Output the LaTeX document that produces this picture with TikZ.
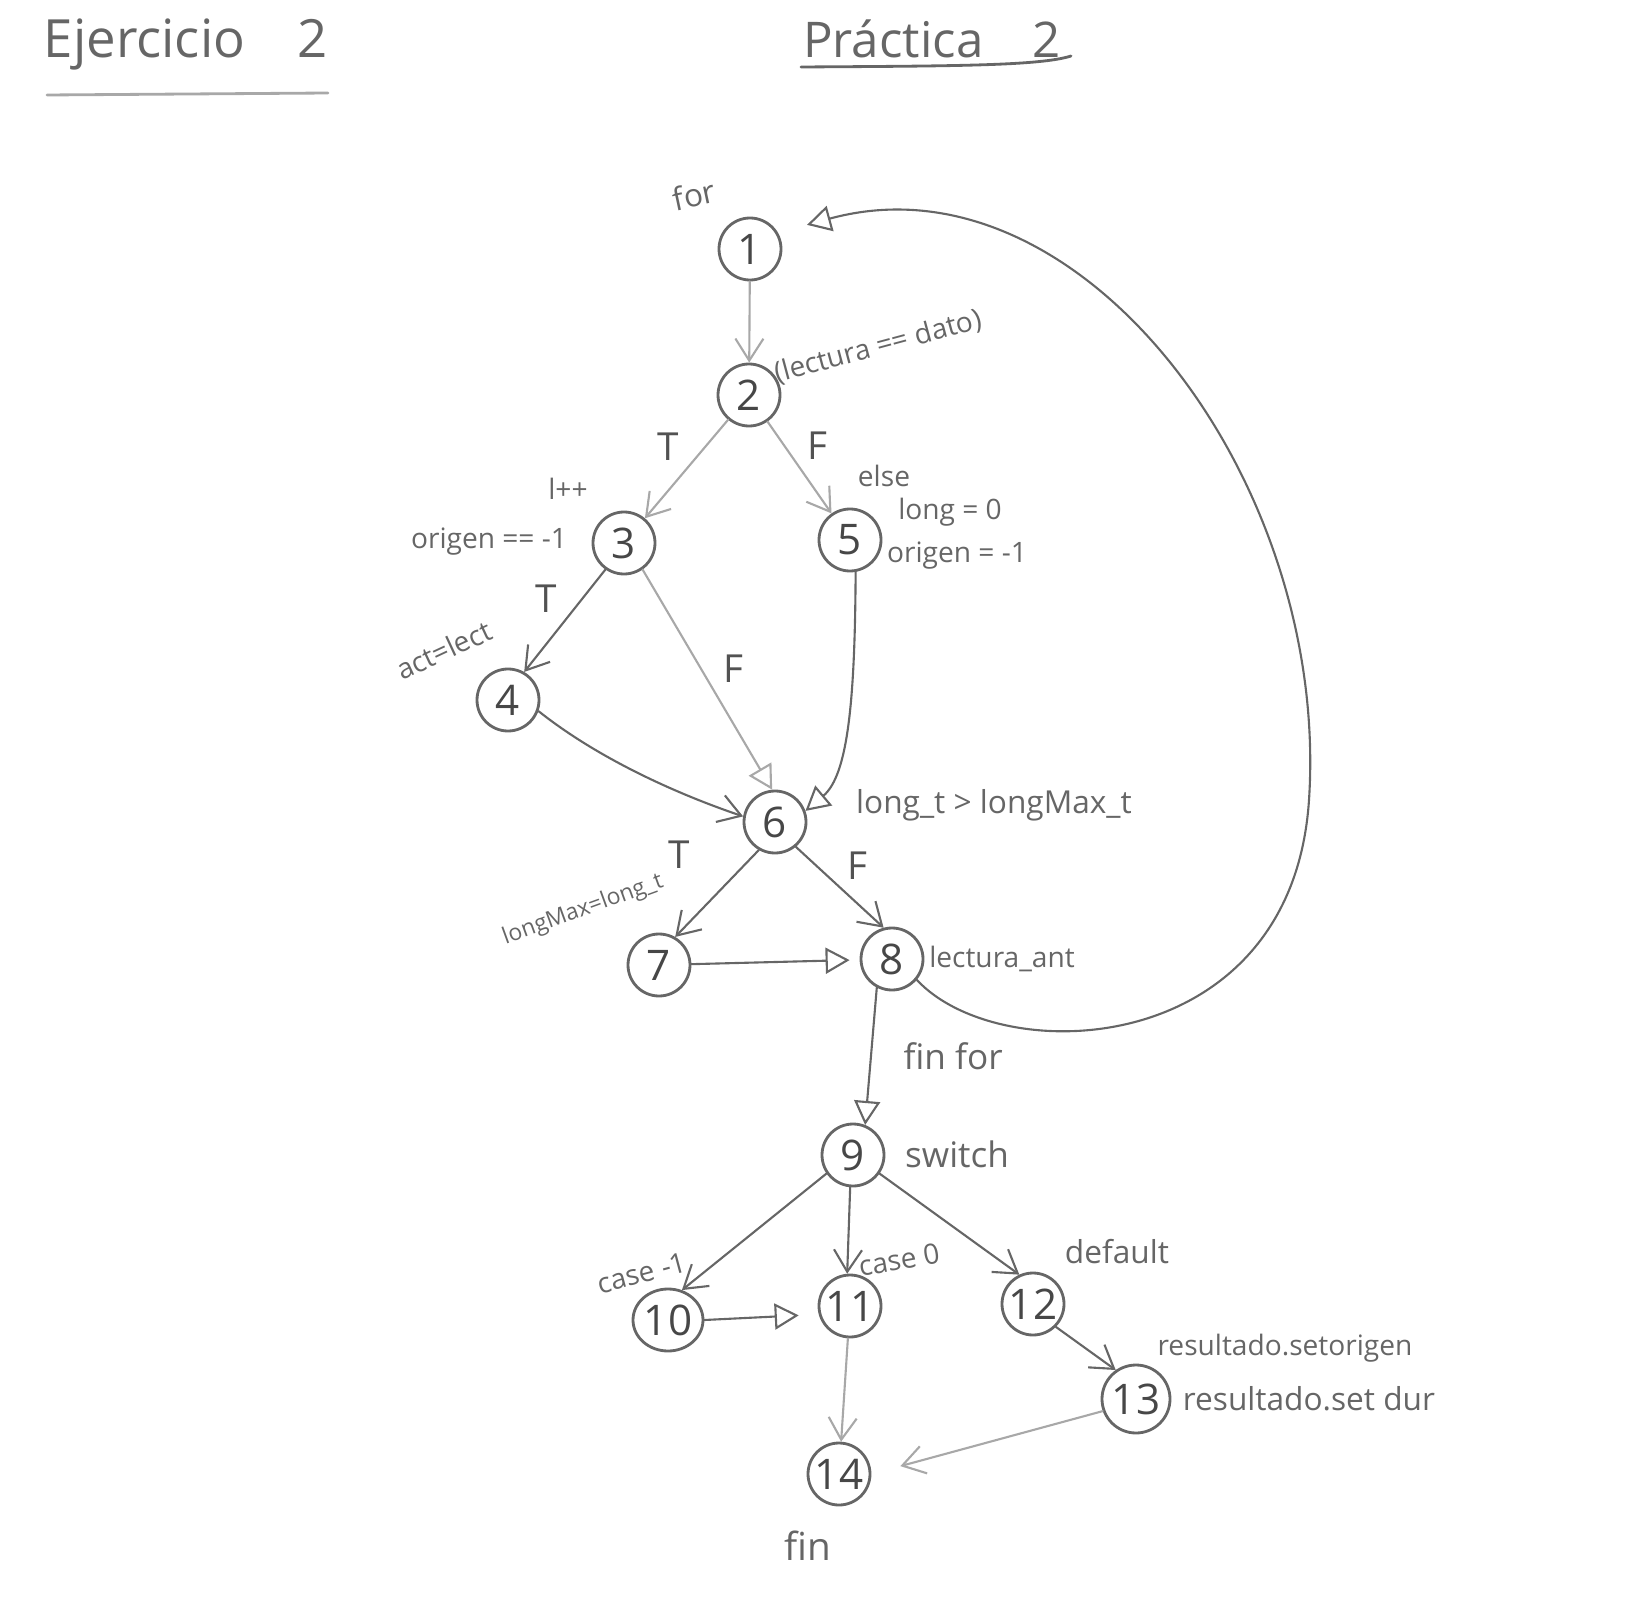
\documentclass[tikz,border=0pt]{standalone}
\usepackage{fontspec}
\setmainfont{Open Sans}
\usetikzlibrary{arrows.meta,shapes.geometric}
\definecolor{lapiz}{gray}{0.40}
\definecolor{lapizclaro}{gray}{0.66}
\begin{document}
\begin{tikzpicture}[x=0.1mm, y=-0.1mm, line join=round, line cap=round,
	nodo/.style={circle, draw=lapiz, thick, minimum size=6.2mm, inner sep=0pt, text=lapiz!70!black, font=\fontsize{12}{12}\selectfont},
	etiq/.style={text=lapiz, inner sep=1pt, font=\fontsize{9}{10}\selectfont},
	rama/.style={text=lapiz!80!black, inner sep=2pt, font=\fontsize{11}{11}\selectfont},
	flecha/.style={draw=lapiz, semithick, -{Straight Barb[length=2.2mm, width=2.8mm]}},
	flechab/.style={draw=lapiz, semithick, -{Triangle[open, length=2.4mm, width=2.6mm]}}]
	\useasboundingbox (0,0) rectangle (1649,1621);
	% titulos
	\node[etiq, font=\fontsize{15}{15}\selectfont] (tit1) at (186,44) {Ejercicio\quad 2};
	\draw[lapizclaro, thick] (47,95) -- (328,93);
	\node[etiq, font=\fontsize{14}{14}\selectfont] (tit2) at (932,39) {Práctica\quad 2};
	\draw[lapiz, thick] (801,67) .. controls (950,66) and (1040,66) .. (1071,56);
	% nodos
	\node[nodo] (n1) at (750,249) {1};
	\node[nodo] (n2) at (749,395) {2};
	\node[nodo] (n3) at (624,543) {3};
	\node[nodo] (n4) at (508,700) {4};
	\node[nodo] (n5) at (850,540) {5};
	\node[nodo] (n6) at (775,822) {6};
	\node[nodo] (n7) at (659,965) {7};
	\node[nodo] (n8) at (892,959) {8};
	\node[nodo] (n9) at (853,1155) {9};
	\node[nodo, ellipse, minimum width=7mm] (n10) at (668,1320) {10};
	\node[nodo] (n11) at (850,1306) {11};
	\node[nodo] (n12) at (1033,1304) {12};
	\node[nodo, minimum size=6.8mm] (n13) at (1136,1399) {13};
	\node[nodo] (n14) at (839,1474) {14};
	% textos
	\node[etiq, rotate=12] (t1) at (694,195) {for};
	\node[etiq, rotate=15, font=\fontsize{8}{9}\selectfont] (t2) at (878,347) {(lectura == dato)};
	\node[etiq, font=\fontsize{8}{9}\selectfont] (t3a) at (568,489) {l++};
	\node[etiq, font=\fontsize{8}{9}\selectfont] (t3b) at (489,542) {origen == -1};
	\node[etiq, font=\fontsize{8}{9}\selectfont] (t5a) at (884,476) {else};
	\node[etiq, font=\fontsize{8}{9}\selectfont] (t5b) at (950,512) {long = 0};
	\node[etiq, font=\fontsize{8}{9}\selectfont] (t5c) at (957,556) {origen = -1};
	\node[etiq, rotate=25, font=\fontsize{8}{9}\selectfont] (t4) at (444,650) {act=lect};
	\node[etiq] (t6) at (994,805) {long\_t > longMax\_t};
	\node[etiq, rotate=20, font=\fontsize{6.5}{7}\selectfont] (t7) at (583,910) {longMax=long\_t};
	\node[etiq, font=\fontsize{8}{9}\selectfont] (t8) at (1002,959) {lectura\_ant};
	\node[etiq, font=\fontsize{10}{10}\selectfont] (t9) at (957,1154) {switch};
	\node[etiq, rotate=15, font=\fontsize{8}{9}\selectfont] (t10) at (642,1273) {case -1};
	\node[etiq, rotate=10, font=\fontsize{8}{9}\selectfont] (t11) at (899,1260) {case 0};
	\node[etiq] (t12) at (1117,1252) {default};
	\node[etiq, font=\fontsize{8}{9}\selectfont] (t13a) at (1285,1348) {resultado.setorigen};
	\node[etiq] (t13b) at (1309,1399) {resultado.set dur};
	\node[etiq, font=\fontsize{11}{11}\selectfont] (t14) at (808,1546) {fin};
	% aristas
	\draw[flecha, draw=lapizclaro] (n1) -- (n2);
	\draw[flecha, draw=lapizclaro] (n2) -- (n3) node[rama, midway, above left]{T};
	\draw[flecha, draw=lapizclaro] (n2) -- (n5) node[rama, midway, above right]{F};
	\draw[flecha] (n3.-125) -- (n4.60) node[rama, midway, above left]{T};
	\draw[flechab, draw=lapizclaro] (n3.-55) -- (n6.95) node[rama, pos=.45, right=4pt]{F};
	\draw[flecha] (n4.-20) .. controls (600,760) and (680,795) .. (n6.170);
	\draw[flechab] (n5.-80) .. controls (855,700) and (848,775) .. (n6.20);
	\draw[flecha] (n6.-120) -- (n7.60) node[rama, pos=.05, left=16pt]{T};
	\draw[flecha] (n6.-50) -- (n8.105) node[rama, midway, above right]{F};
	\draw[flechab, shorten >=1mm] (n7) -- (n8);
	\draw[flechab] (n8.-118) -- (n9.68) node[etiq, pos=.5, right=8pt, font=\fontsize{10}{10}\selectfont]{fin for};
	\draw[flechab, shorten >=3mm] (n8.-40) .. controls (1000,1070) and (1292,1060) .. (1309,800)
		.. controls (1330,480) and (1080,150) .. (n1.30);
	\draw[flecha] (n9.-145) -- (n10.65);
	\draw[flecha] (n9.-95) -- (n11.95);
	\draw[flecha] (n9.-35) -- (n12.115);
	\draw[flechab, shorten >=2mm] (n10.east) -- (n11.-165);
	\draw[flecha, draw=lapizclaro] (n11) -- (n14);
	\draw[flecha] (n12.-45) -- (n13.125);
	\draw[flecha, draw=lapizclaro, shorten >=3mm] (n13.-160) -- (n14.east);
\end{tikzpicture}
\end{document}
